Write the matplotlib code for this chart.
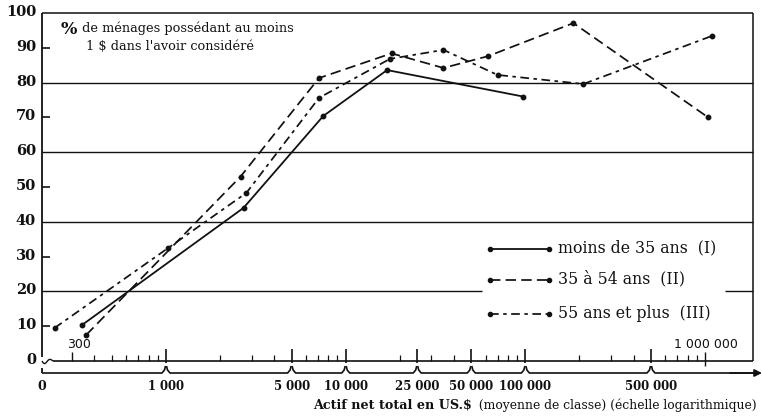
import numpy as np
import matplotlib
matplotlib.use("Agg")
import matplotlib.pyplot as plt

# ---------------- data ----------------
x_I = [340, 2700, 7500, 17000, 97000]
y_I = [10.3, 44.0, 70.4, 83.6, 76.0]

x_II = [360, 2600, 7100, 18000, 35000, 62000, 185000, 1040000]
y_II = [7.5, 53.0, 81.3, 88.4, 84.2, 87.6, 97.1, 70.0]

x_III = [240, 1030, 2800, 7100, 17600, 35000, 70000, 210000, 1090000]
y_III = [9.5, 32.5, 48.3, 75.6, 86.8, 89.4, 82.2, 79.6, 93.4]

series_labels = ["moins de 35 ans  (I)", "35 à 54 ans  (II)", "55 ans et plus  (III)"]

y_tick_vals = [0, 10, 20, 30, 40, 50, 60, 70, 80, 90, 100]
grid_vals = [20, 40, 60, 80]
odd_tick_vals = [10, 30, 50, 70, 90]

major_ticks = [1000, 5000, 10000, 25000, 50000, 100000, 500000]
major_labels = ["1 000", "5 000", "10 000", "25 000", "50 000", "100 000", "500 000"]
minor_ticks = [400, 500, 600, 700, 800, 900, 2000, 3000, 4000,
               6000, 7000, 8000, 9000, 20000, 30000, 40000,
               60000, 70000, 80000, 90000, 200000, 300000, 400000,
               600000, 700000, 800000, 900000]

title_l1 = " de ménages possédant au moins"
title_l2 = "1 $ dans l'avoir considéré"
xlabel_bold = "Actif net total en US.$"
xlabel_rest = "  (moyenne de classe) (échelle logarithmique)"

# ---------------- geometry ----------------
W, H = 762, 417
PX0, PX1 = 42, 753
PY0, PY1 = 361, 13
DEC = 179.7
X1000 = 166

def xv(px):
    return 10 ** (3 + (px - X1000) / DEC)

def yv(py):
    return (PY0 - py) * 100.0 / (PY0 - PY1)

def fx(px):
    return px / W

def fy(py):
    return 1 - py / H

SERIF = ["DejaVu Serif"]
fig = plt.figure(figsize=(W / 100, H / 100), dpi=100)
fig.patch.set_facecolor("white")
ax = fig.add_axes([PX0 / W, 1 - PY0 / H, (PX1 - PX0) / W, (PY0 - PY1) / H])
ax.set_xscale("log")
ax.set_xlim(xv(PX0), xv(PX1))
ax.set_ylim(0, 100)
ax.axis("off")

K = "#111111"
kw = dict(color=K, clip_on=False, solid_capstyle="butt")

# frame: top border, left axis, right border
ax.plot([xv(PX0), xv(PX1)], [100, 100], lw=1.1, **kw)
ax.plot([xv(PX0), xv(PX0)], [100, yv(357)], lw=1.3, **kw)
ax.plot([xv(PX0), xv(PX0)], [yv(368), yv(373)], lw=1.3, **kw)
ax.plot([xv(PX1), xv(PX1)], [100, 0], lw=1.1, **kw)

# gridlines
for g in grid_vals:
    if g == 20:
        ax.plot([xv(PX0), xv(482)], [g, g], lw=1.0, **kw)
        ax.plot([xv(725), xv(PX1)], [g, g], lw=1.0, **kw)
    else:
        ax.plot([xv(PX0), xv(PX1)], [g, g], lw=1.0, **kw)

# short ticks at odd tens
for t in odd_tick_vals:
    ax.plot([xv(PX0), xv(PX0 + 8)], [t, t], lw=1.2, **kw)

# y labels
for t in y_tick_vals:
    fig.text(fx(36), fy(PY0 - t * (PY0 - PY1) / 100.0 - 1), str(t), ha="right", va="center",
             fontsize=10.5, fontweight="bold", family=SERIF, color=K)

# x axis main line with break squiggle
sq_px = np.linspace(42, 53, 30)
sq_py = 361 + 3.2 * np.sin((sq_px - 42) / 11 * 2 * np.pi) * np.exp(-(sq_px - 42) / 12)
ax.plot([xv(p) for p in sq_px], [yv(p) for p in sq_py], lw=1.0, **kw)
ax.plot([xv(53), xv(PX1)], [0, 0], lw=1.2, **kw)

# ticks
for t in major_ticks:
    ax.plot([t, t], [yv(363), yv(349)], lw=1.2, **kw)
for t in minor_ticks:
    ax.plot([t, t], [0, yv(355)], lw=0.9, **kw)
ax.plot([300, 300], [0, yv(352)], lw=1.0, **kw)
ax.plot([1e6, 1e6], [yv(366), yv(352)], lw=1.0, **kw)

# brace line with arrow
BY = 373
bounds = [xv(PX0)] + major_ticks + [xv(755)]
for i in range(len(bounds) - 1):
    a, b = bounds[i], bounds[i + 1]
    pa = X1000 + DEC * (np.log10(a) - 3)
    pb = X1000 + DEC * (np.log10(b) - 3)
    xs_p = [pa, pb]
    ys_p = [BY, BY]
    if i > 0:
        xs_p = [pa + 0.5, pa + 1.5, pa + 4] + xs_p[1:]
        ys_p = [366, 370, BY] + ys_p[1:]
    if i < len(bounds) - 2:
        xs_p = xs_p[:-1] + [pb - 4, pb - 1.5, pb - 0.5]
        ys_p = ys_p[:-1] + [BY, 370, 366]
    ax.plot([xv(p) for p in xs_p], [yv(p) for p in ys_p], lw=1.2, **kw)
ax.annotate("", xy=(xv(762), yv(BY)), xytext=(xv(730), yv(BY)),
            arrowprops=dict(arrowstyle="-|>", lw=1.2, color=K, mutation_scale=11,
                            shrinkA=0, shrinkB=0),
            annotation_clip=False)

# x labels
fig.text(fx(42), fy(386), "0", ha="center", va="center", fontsize=9,
         fontweight="bold", family=SERIF, color=K)
for t, lab in zip(major_ticks, major_labels):
    px = X1000 + DEC * (np.log10(t) - 3)
    fig.text(fx(px), fy(386), lab, ha="center", va="center", fontsize=8.4,
             fontweight="bold", family=SERIF, color=K)
fig.text(fx(79), fy(345), "300", ha="center", va="center", fontsize=9, color=K,
         family=["DejaVu Sans"])
fig.text(fx(706), fy(344), "1 000 000", ha="center", va="center", fontsize=9, color=K,
         family=["DejaVu Sans"])

# x axis title (bold part + regular part)
t_rest = fig.text(fx(757), fy(405), xlabel_rest, ha="right", va="center", fontsize=8.9,
                  family=SERIF, color=K)
fig.canvas.draw()
bb = t_rest.get_window_extent(renderer=fig.canvas.get_renderer())
fig.text(bb.x0 / W, fy(405), xlabel_bold, ha="right", va="center", fontsize=9.2,
         fontweight="bold", family=SERIF, color=K)

# header text
fig.text(fx(61), fy(29), "%", ha="left", va="center", fontsize=12.5, fontweight="bold",
         family=SERIF, color=K)
fig.text(fx(78), fy(28), title_l1, ha="left", va="center", fontsize=9.3,
         family=SERIF, color=K)
fig.text(fx(86), fy(47), title_l2, ha="left", va="center", fontsize=9.3,
         family=SERIF, color=K)

# series
styles = [
    dict(linestyle="-", lw=1.3),
    dict(linestyle=(0, (6, 3)), lw=1.25),
    dict(linestyle=(0, (5, 2.6, 2, 2.6)), lw=1.25),
]
data = [(x_I, y_I), (x_II, y_II), (x_III, y_III)]
for (xs, ys), st in zip(data, styles):
    ax.plot(xs, ys, color=K, marker="o", ms=3.2, clip_on=False, **st)

# legend (drawn by hand)
leg_py = [249, 280, 314]
for (lab, st, py) in zip(series_labels, styles, leg_py):
    ax.plot([xv(490), xv(549)], [yv(py), yv(py)], color=K, marker="o", ms=3,
            clip_on=False, **st)
    fig.text(fx(558), fy(py - 1), lab, ha="left", va="center", fontsize=11.3,
             family=SERIF, color=K)

fig.savefig("out.png", dpi=100, facecolor="white")
